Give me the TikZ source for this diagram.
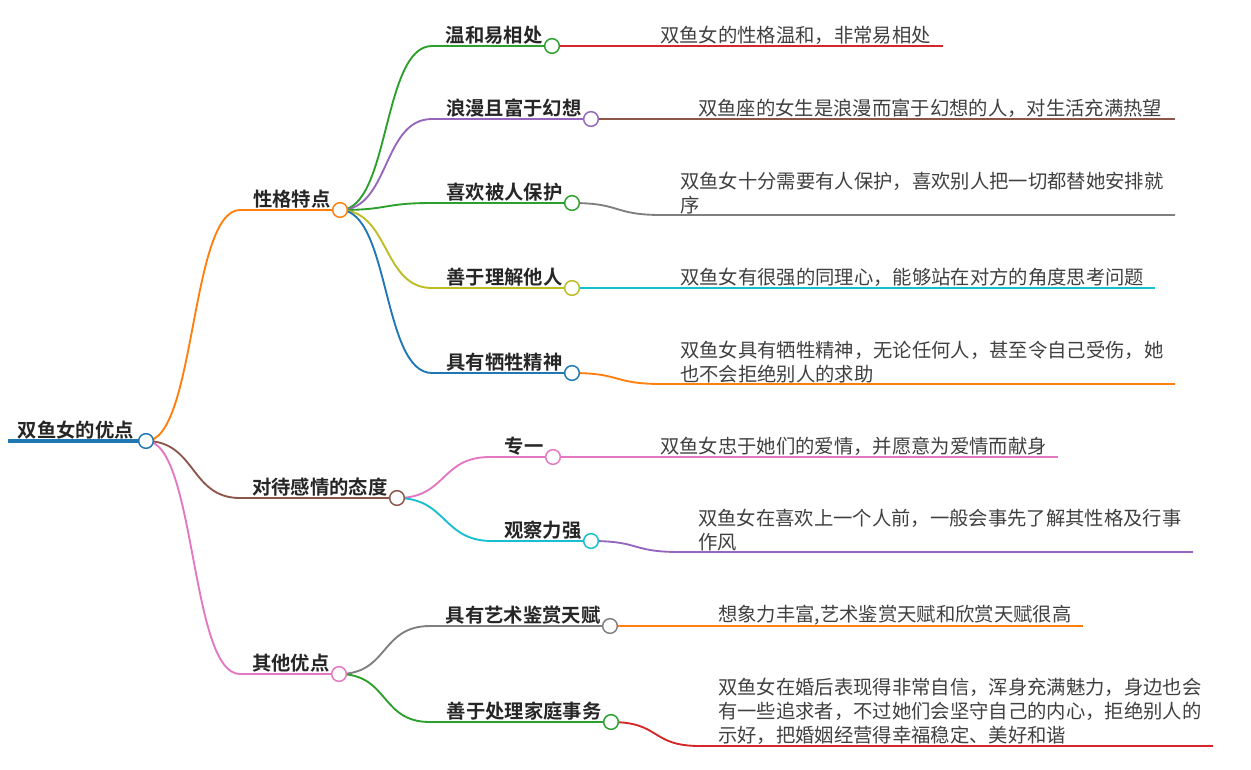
\documentclass[tikz,border=0pt]{standalone}
\usepackage{fontspec}
\setmainfont{Noto Sans CJK SC}[BoldFont={Noto Sans CJK SC Bold}]
\usetikzlibrary{backgrounds}

\definecolor{cblue}{RGB}{31,119,180}
\definecolor{corange}{RGB}{255,127,14}
\definecolor{cgreen}{RGB}{44,160,44}
\definecolor{cred}{RGB}{214,39,40}
\definecolor{cpurple}{RGB}{148,103,189}
\definecolor{cbrown}{RGB}{140,86,75}
\definecolor{cpink}{RGB}{227,119,194}
\definecolor{cgray}{RGB}{127,127,127}
\definecolor{colive}{RGB}{188,189,34}
\definecolor{ccyan}{RGB}{23,190,207}

\tikzset{
	dot/.style={circle,draw=#1,fill=white,line width=1.1pt,minimum size=11pt,inner sep=0pt},
	lbl/.style={font=\bfseries\fontsize{14.5pt}{18pt}\selectfont,text=black!85,inner sep=0pt,anchor=base east},
	leaf/.style={font=\fontsize{14.5pt}{18pt}\selectfont,text=black!75,inner sep=0pt,anchor=south west,align=left},
	branch/.style={draw=#1,line width=1.4pt},
}

\begin{document}
\begin{tikzpicture}[x=0.75pt,y=-0.75pt]
	\useasboundingbox (0,0) rectangle (1251,769);

	%CIRCLES
	\node[dot=cblue] (root) at (146,441) {};
	\node[dot=corange] (p1) at (340,210) {};
	\node[dot=cbrown] (p2) at (397,498) {};
	\node[dot=cpink] (p3) at (339,674) {};
	\node[dot=cgreen] (a1) at (552,46) {};
	\node[dot=cpurple] (a2) at (591,119) {};
	\node[dot=cgreen] (a3) at (572,203) {};
	\node[dot=colive] (a4) at (572,288) {};
	\node[dot=cblue] (a5) at (572,373) {};
	\node[dot=cpink] (b1) at (553,457) {};
	\node[dot=ccyan] (b2) at (591,541) {};
	\node[dot=cgray] (c1) at (610,626) {};
	\node[dot=cgreen] (c2) at (611,722) {};

	%LABELS
	\node[lbl] (root-t) at ([xshift=-3pt,yshift=3pt]root.west) {双鱼女的优点};
	\node[lbl] (p1-t) at ([xshift=-1pt,yshift=3pt]p1.west) {性格特点};
	\node[lbl] (p2-t) at ([xshift=-1pt,yshift=3pt]p2.west) {对待感情的态度};
	\node[lbl] (p3-t) at ([xshift=-1pt,yshift=3pt]p3.west) {其他优点};
	\node[lbl] (a1-t) at ([xshift=-1pt,yshift=3pt]a1.west) {温和易相处};
	\node[lbl] (a2-t) at ([xshift=-1pt,yshift=3pt]a2.west) {浪漫且富于幻想};
	\node[lbl] (a3-t) at ([xshift=-1pt,yshift=3pt]a3.west) {喜欢被人保护};
	\node[lbl] (a4-t) at ([xshift=-1pt,yshift=3pt]a4.west) {善于理解他人};
	\node[lbl] (a5-t) at ([xshift=-1pt,yshift=3pt]a5.west) {具有牺牲精神};
	\node[lbl] (b1-t) at ([xshift=-1pt,yshift=3pt]b1.west) {专一};
	\node[lbl] (b2-t) at ([xshift=-1pt,yshift=3pt]b2.west) {观察力强};
	\node[lbl] (c1-t) at ([xshift=-1pt,yshift=3pt]c1.west) {具有艺术鉴赏天赋};
	\node[lbl] (c2-t) at ([xshift=-1pt,yshift=3pt]c2.west) {善于处理家庭事务};

	%LEAF TEXTS
	\node[leaf] (a1-l) at (660,45) {双鱼女的性格温和，非常易相处};
	\node[leaf] (a2-l) at (698,118) {双鱼座的女生是浪漫而富于幻想的人，对生活充满热望};
	\node[leaf] (a3-l) at (680,214) {双鱼女十分需要有人保护，喜欢别人把一切都替她安排就\\序};
	\node[leaf] (a4-l) at (680,287) {双鱼女有很强的同理心，能够站在对方的角度思考问题};
	\node[leaf] (a5-l) at (680,383) {双鱼女具有牺牲精神，无论任何人，甚至令自己受伤，她\\也不会拒绝别人的求助};
	\node[leaf] (b1-l) at (660,456) {双鱼女忠于她们的爱情，并愿意为爱情而献身};
	\node[leaf] (b2-l) at (698,551) {双鱼女在喜欢上一个人前，一般会事先了解其性格及行事\\作风};
	\node[leaf] (c1-l) at (718,625) {想象力丰富,艺术鉴赏天赋和欣赏天赋很高};
	\node[leaf] (c2-l) at (718,745) {双鱼女在婚后表现得非常自信，浑身充满魅力，身边也会\\有一些追求者，不过她们会坚守自己的内心，拒绝别人的\\示好，把婚姻经营得幸福稳定、美好和谐};

	%LINE STARTS & ENDS
	\coordinate (root-s) at (8,441);
	\coordinate (p1-s) at (240,210);
	\coordinate (p2-s) at (240,498);
	\coordinate (p3-s) at (240,674);
	\coordinate (a1-s) at (432,46);
	\coordinate (a2-s) at (432,119);
	\coordinate (a3-s) at (432,203);
	\coordinate (a4-s) at (432,288);
	\coordinate (a5-s) at (432,373);
	\coordinate (b1-s) at (490,457);
	\coordinate (b2-s) at (492,541);
	\coordinate (c1-s) at (430,626);
	\coordinate (c2-s) at (430,722);
	%
	\coordinate (a3-m) at (662,215);
	\coordinate (a5-m) at (662,384);
	\coordinate (b2-m) at (680,552);
	\coordinate (c2-m) at (700,746);
	\coordinate (a1-e) at (943,46);
	\coordinate (a2-e) at (1175,119);
	\coordinate (a3-e) at (1175,215);
	\coordinate (a4-e) at (1155,288);
	\coordinate (a5-e) at (1175,384);
	\coordinate (b1-e) at (1058,457);
	\coordinate (b2-e) at (1193,552);
	\coordinate (c1-e) at (1083,626);
	\coordinate (c2-e) at (1213,746);

	%CONNECTORS
	\begin{scope}[on background layer]
	\draw[cblue,line width=3pt] (root-s)--(root.center);
	\foreach \a/\b/\c in {root/p1/corange,root/p2/cbrown,root/p3/cpink,
		p1/a1/cgreen,p1/a2/cpurple,p1/a3/cgreen,p1/a4/colive,p1/a5/cblue,
		p2/b1/cpink,p2/b2/ccyan,p3/c1/cgray,p3/c2/cgreen}{
	\draw[branch=\c] (\a.center) .. controls +(50,0) and +(-50,0) .. (\b-s)--(\b.center);
	}
	%leaves, straight
	\draw[branch=cred] (a1.center)--(a1-e);
	\draw[branch=cbrown] (a2.center)--(a2-e);
	\draw[branch=ccyan] (a4.center)--(a4-e);
	\draw[branch=cpink] (b1.center)--(b1-e);
	\draw[branch=corange] (c1.center)--(c1-e);
	%leaves, curved
	\foreach \b/\c in {a3/cgray,a5/corange,b2/cpurple,c2/cred}{
	\draw[branch=\c] (\b.center) .. controls +(50,0) and +(-50,0) .. (\b-m)--(\b-e);
	}
	\end{scope}
\end{tikzpicture}
\end{document}
